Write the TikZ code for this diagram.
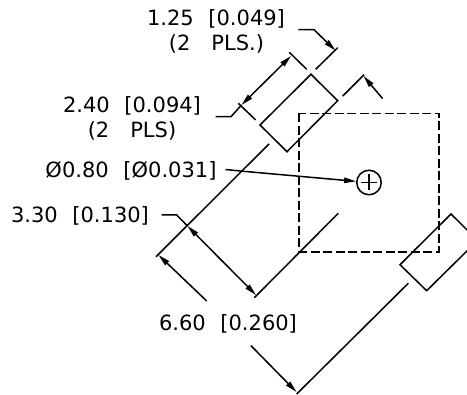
\documentclass[tikz,border=0pt]{standalone}
\usepackage{fontspec}
\setmainfont{DejaVu Sans}
\usetikzlibrary{arrows.meta}
\tikzset{
    dimline/.style={line width=1.5pt},
    dimarrow/.style={dimline,-{Stealth[length=12pt,width=5.5pt,inset=0pt]}},
    dimboth/.style={dimline,{Stealth[length=12pt,width=5.5pt,inset=0pt]}-{Stealth[length=12pt,width=5.5pt,inset=0pt]}},
    dimtext/.style={inner sep=0pt,font=\fontsize{21}{21}\selectfont},
    hidden/.style={line width=1.5pt,dash pattern=on 9pt off 3.5pt}
}
\newcommand{\gap}{\hspace{0.7em}}

\begin{document}
\begin{tikzpicture}[x=1pt,y=-1pt]
    \clip (0,0) rectangle (467,395);
    % labels
    \node[dimtext] (pitch) at (216,18.5) {1.25\gap[0.049]};
    \node[dimtext] (pitchb) at (216.5,44) {(2\gap\hspace{0.3em}PLS.)};
    \node[dimtext] (width) at (132,106) {2.40\gap[0.094]};
    \node[dimtext] (widthb) at (132,131) {(2\gap\hspace{0.3em}PLS)};
    \node[dimtext] (drill) at (131,171) {Ø0.80\gap[Ø0.031]};
    \node[dimtext] (half) at (80,216) {3.30\gap[0.130]};
    \node[dimtext] (full) at (228,324) {6.60\gap[0.260]};
    % pads
    \coordinate (pa) at (311,74.3);
    \coordinate (pb) at (337.7,100.7);
    \coordinate (pc) at (287,151.7);
    \coordinate (pd) at (260,125);
    \draw[dimline] (pa) -- (pb) -- (pc) -- (pd) -- cycle;
    \coordinate (qa) at (451,214);
    \coordinate (qb) at (477.7,240.4);
    \coordinate (qc) at (426.7,290.7);
    \coordinate (qd) at (400,264.7);
    \draw[dimline] (qa) -- (qb) -- (qc) -- (qd) -- cycle;
    % outline
    \draw[hidden] (299,113.5) rectangle (439,252);
    % drill
    \node[circle,draw,line width=1.5pt,minimum size=24.5pt,inner sep=0pt] (hole) at (369,182.5) {};
    \draw[dimline] ([xshift=-8pt]hole.center) -- ([xshift=8pt]hole.center);
    \draw[dimline] ([yshift=-8pt]hole.center) -- ([yshift=8pt]hole.center);
    \coordinate (ldrilla) at (225.5,169.5);
    \coordinate (ldrillb) at (240,171);
    \draw[dimarrow] (ldrilla) -- (ldrillb) -- (hole);
    % extension lines
    \coordinate (ea) at (289.3,52.3);
    \coordinate (eb) at (306.7,69.3);
    \coordinate (ec) at (238.3,103.3);
    \coordinate (ed) at (255.7,120);
    \coordinate (ee) at (315.7,69.3);
    \coordinate (ef) at (337.7,47.7);
    \coordinate (eg) at (342.7,96);
    \coordinate (eh) at (364,74.7);
    \coordinate (ei) at (269,144);
    \coordinate (ej) at (156,256.7);
    \coordinate (ek) at (338.3,213.3);
    \coordinate (el) at (254.3,297.7);
    \coordinate (em) at (408.3,283.3);
    \coordinate (en) at (296.7,394);
    \draw[dimline] (ea) -- (eb);
    \draw[dimline] (ec) -- (ed);
    \draw[dimline] (ee) -- (ef);
    \draw[dimline] (eg) -- (eh);
    \draw[dimline] (ei) -- (ej);
    \draw[dimline] (ek) -- (el);
    \draw[dimline] (em) -- (en);
    % 1.25
    \coordinate (ta) at (298.3,29.7);
    \coordinate (tb) at (314,29.7);
    \coordinate (tc) at (335.5,50.5);
    \coordinate (td) at (382.7,98.7);
    \coordinate (te) at (363.5,76);
    \draw[dimarrow] (ta) -- (tb) -- (tc);
    \draw[dimarrow] (td) -- (te);
    % 2.40
    \coordinate (wa) at (215.7,116.7);
    \coordinate (wb) at (231,116.7);
    \coordinate (wc) at (241.5,105);
    \coordinate (wd) at (291,56);
    \draw[dimline] (wa) -- (wb) -- (wc);
    \draw[dimboth] (wc) -- (wd);
    % 3.30
    \coordinate (ha) at (161.7,215);
    \coordinate (hb) at (176.7,215);
    \coordinate (hc) at (187.5,226);
    \coordinate (hd) at (256,295);
    \draw[dimline] (ha) -- (hb) -- (hc);
    \draw[dimboth] (hc) -- (hd);
    % 6.60
    \coordinate (fa) at (206.7,301);
    \coordinate (fb) at (158.5,255);
    \coordinate (fc) at (251,345.7);
    \coordinate (fd) at (296.5,392);
    \draw[dimarrow] (fa) -- (fb);
    \draw[dimarrow] (fc) -- (fd);
\end{tikzpicture}
\end{document}
